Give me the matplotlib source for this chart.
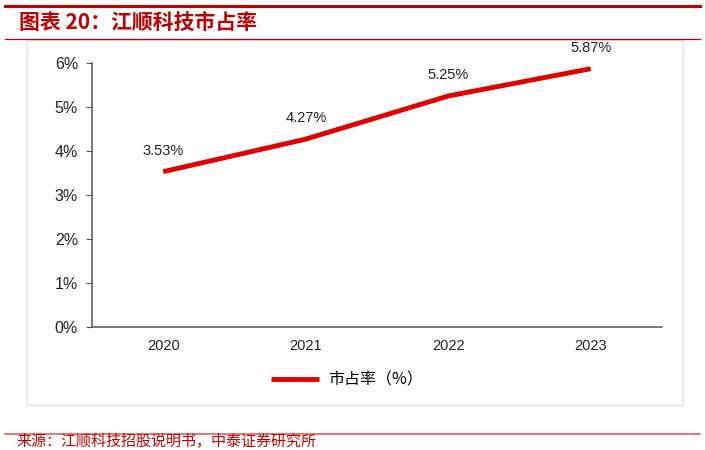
import matplotlib.pyplot as plt
from matplotlib.patches import Rectangle
from matplotlib.lines import Line2D

plt.rcParams['font.family'] = ['Liberation Sans', 'Noto Sans CJK SC', 'DejaVu Sans']

years = ['2020', '2021', '2022', '2023']
share = [3.53, 4.27, 5.25, 5.87]
yticks = [0, 1, 2, 3, 4, 5, 6]
series_name = '市占率（%）'
title = '图表 20：江顺科技市占率'
source = '来源：江顺科技招股说明书，中泰证券研究所'

red = '#E00000'
dark_red = '#C00000'

fig = plt.figure(figsize=(7.05, 4.5), dpi=100)

# decorations around the chart
fig.add_artist(Line2D([0.007, 0.993], [1 - 6 / 450] * 2, color=dark_red, lw=2.2))
fig.add_artist(Line2D([0.007, 0.993], [1 - 39 / 450] * 2, color=dark_red, lw=0.9))
fig.add_artist(Line2D([0.007, 0.993], [1 - 434 / 450] * 2, color='#E06060', lw=1.2))
fig.add_artist(Rectangle((27 / 705, 1 - 405 / 450), (683 - 27) / 705, (405 - 40) / 450,
                         transform=fig.transFigure, fill=False, edgecolor='#e3e3e3', lw=1))
fig.text(0.027, 1 - 22 / 450, title, color=dark_red, fontsize=15, fontweight='bold',
         style='italic', va='center', ha='left', family=['Noto Sans CJK SC', 'DejaVu Sans'])
fig.text(0.024, 1 - 441 / 450, source, color=dark_red, fontsize=10.8, va='center', ha='left',
         family=['Noto Sans CJK SC', 'DejaVu Sans'])

ax = fig.add_axes([92 / 705, 1 - 327 / 450, 570 / 705, 264 / 450])
x = range(len(years))
ax.plot(x, share, color=red, lw=3.5, solid_capstyle='butt', label=series_name)
for xi, v in zip(x, share):
    ax.annotate('%.2f%%' % v, (xi, v), xytext=(0, 10), textcoords='offset points',
                ha='center', va='bottom', fontsize=10.5, color='#222222')

ax.set_xlim(-0.5, len(years) - 0.5)
ax.set_ylim(0, 6)
ax.set_yticks(yticks)
ax.set_yticklabels(['%d%%' % t for t in yticks])
ax.set_xticks(list(x))
ax.set_xticklabels(years)
ax.tick_params(axis='y', length=4, color='#555555', labelsize=11.5, labelcolor='#222222', pad=6)
ax.tick_params(axis='x', length=0, labelsize=10.5, labelcolor='#222222', pad=9)
for s in ['top', 'right']:
    ax.spines[s].set_visible(False)
ax.spines['left'].set_color('#555555')
ax.spines['bottom'].set_color('#555555')
ax.spines['left'].set_linewidth(1.1)
ax.spines['bottom'].set_linewidth(1.1)

leg = fig.legend(loc='center', bbox_to_anchor=(347 / 705, 1 - 380 / 450), frameon=False,
                 prop={'family': ['Noto Sans CJK SC', 'DejaVu Sans'], 'size': 11.5},
                 handlelength=3.0, handletextpad=0.6)

fig.savefig('out.png', dpi=100)
